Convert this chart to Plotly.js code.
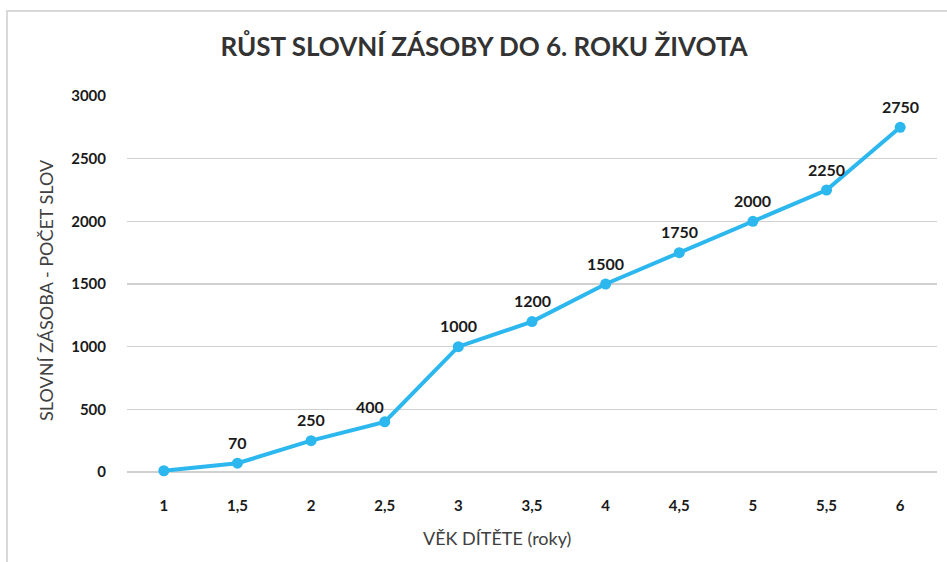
<!DOCTYPE html>
<html>
<head>
<meta charset="utf-8">
<script src="https://cdn.plot.ly/plotly-3.0.1.min.js"></script>
<style>
html,body{margin:0;padding:0;background:#fff;}
#wrap{position:relative;width:947px;height:562px;overflow:hidden;}
#frame{position:absolute;left:6px;top:10px;width:960px;height:600px;border-left:2px solid #d9d9d9;border-top:2px solid #d9d9d9;pointer-events:none;}
#chart{position:absolute;left:0;top:0;width:947px;height:562px;}
</style>
</head>
<body>
<div id="wrap"><div id="chart"></div><div id="frame"></div></div>
<script>
const categories = ["1","1,5","2","2,5","3","3,5","4","4,5","5","5,5","6"];
const values = [10, 70, 250, 400, 1000, 1200, 1500, 1750, 2000, 2250, 2750];
const labels = ["", "70", "250", "400", "1000", "1200", "1500", "1750", "2000", "2250", "2750"];
const yTicks = [0, 500, 1000, 1500, 2000, 2500, 3000];

const trace = {
  x: categories,
  y: values,
  type: 'scatter',
  mode: 'lines+markers',
  line: {color: '#2cb7ee', width: 4},
  marker: {color: '#2cb7ee', size: 11},
  cliponaxis: false,
  hoverinfo: 'x+y'
};

const labelFont = {family: 'Lato, sans-serif', size: 16, color: '#1a1a1a', weight: 'bold'};
// category axis: annotation x is the category index
const labelAnns = categories.map((c, i) => ({
  x: i, y: values[i], xref: 'x', yref: 'y',
  text: labels[i], showarrow: false, font: labelFont,
  xanchor: 'center', yanchor: 'middle',
  xshift: c === "2,5" ? -15 : 0,
  yshift: c === "2,5" ? 15 : 21
})).filter(a => a.text);

const layout = {
  width: 947, height: 562,
  margin: {l: 127, r: 10, t: 96, b: 90},
  paper_bgcolor: '#fff', plot_bgcolor: '#fff',
  showlegend: false,
  title: {
    text: 'RŮST SLOVNÍ ZÁSOBY DO 6. ROKU ŽIVOTA',
    font: {family: 'Lato, sans-serif', size: 26, color: '#333333', weight: 'bold'},
    x: 484/947, xref: 'container', xanchor: 'center',
    y: 1 - 47/562, yref: 'container', yanchor: 'middle'
  },
  xaxis: {
    type: 'category',
    range: [-0.5, 10.5],
    showgrid: false, zeroline: false, showline: false,
    ticks: 'outside', ticklen: 20, tickcolor: 'rgba(0,0,0,0)',
    tickfont: {family: 'Lato, sans-serif', size: 15, color: '#1a1a1a', weight: 'bold'}
  },
  yaxis: {
    range: [0, 3000],
    tickvals: yTicks,
    ticktext: yTicks.map(String),
    showgrid: true, gridcolor: '#d0d0d0', gridwidth: 1.5,
    zeroline: true, zerolinecolor: '#d0d0d0', zerolinewidth: 1.5,
    showline: false,
    ticks: 'outside', ticklen: 17, tickcolor: 'rgba(0,0,0,0)',
    tickfont: {family: 'Lato, sans-serif', size: 15, color: '#1a1a1a', weight: 'bold'}
  },
  annotations: [
    {text: 'VĚK DÍTĚTE (roky)', xref: 'paper', yref: 'paper',
     x: (497-127)/810, y: -(538-472)/376, xanchor: 'center', yanchor: 'middle',
     showarrow: false, font: {family: 'Lato, sans-serif', size: 18, color: '#404040'}},
    {text: 'SLOVNÍ ZÁSOBA - POČET SLOV', xref: 'paper', yref: 'paper',
     x: -(127-46)/810, y: (472-290)/376, xanchor: 'center', yanchor: 'middle', textangle: -90,
     showarrow: false, font: {family: 'Lato, sans-serif', size: 18, color: '#404040'}}
  ].concat(labelAnns)
};

Plotly.newPlot('chart', [trace], layout, {displayModeBar: false, staticPlot: true});
</script>
</body>
</html>
